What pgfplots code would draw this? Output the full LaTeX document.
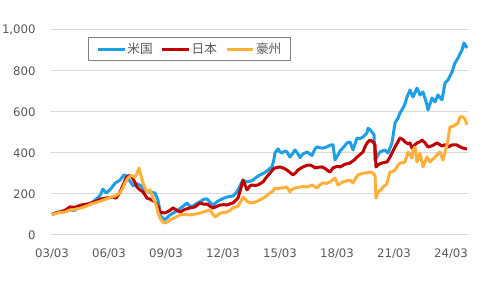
\documentclass[border=0pt]{standalone}
\usepackage{fontspec}
\setmainfont{DejaVu Sans}
\newfontfamily\jp{Noto Sans CJK JP}
\usepackage{pgfplots}
\pgfplotsset{compat=1.18}
\usepackage{pgfplotstable}
\definecolor{cUS}{RGB}{30,158,228}
\definecolor{cJP}{RGB}{192,0,0}
\definecolor{cAU}{RGB}{255,176,58}
\definecolor{gridc}{RGB}{217,217,217}
\definecolor{tickc}{RGB}{89,89,89}
\pgfplotstableread{
px v
52 100
56 108
60 115
65 118
70 122
74 120
77 128
80 136
85 141
90 150
95 170
100 192
103 224
106 205
110 220
115 252
120 268
124 293
127 288
130 262
133 240
137 250
141 240
145 215
150 208
155 205
158 170
161 90
165 75
170 98
175 112
178 122
183 140
187 156
190 140
193 141
197 155
200 162
204 175
207 176
210 160
213 146
217 162
220 171
224 180
227 185
230 188
233 190
236 205
238 220
241 250
243 268
245 262
247 259
250 262
253 268
256 280
260 293
264 302
267 312
270 325
272 332
274 370
275 400
278 420
280 405
282 400
285 410
287 405
290 380
293 400
295 415
298 395
300 378
303 395
307 405
310 395
312 388
315 420
317 430
320 425
323 424
327 430
330 438
333 440
335 366
338 390
340 410
344 430
347 449
350 454
353 415
357 473
360 470
363 478
367 498
368 520
370 515
372 502
374 490
375 366
378 390
380 405
385 415
388 400
392 449
395 546
398 570
400 595
403 619
405 640
407 673
410 707
413 673
417 717
420 683
423 698
427 634
428 610
432 668
435 649
438 683
442 659
445 741
448 756
452 795
455 839
458 863
462 902
464 937
467 912
}\dataUS
\pgfplotstableread{
px v
52 100
56 108
60 112
65 120
70 137
75 135
81 146
86 150
91 156
96 165
101 176
106 180
110 183
113 185
116 180
119 200
121 220
124 255
126 278
129 290
132 283
135 255
137 234
140 220
143 210
147 180
150 175
155 161
158 140
160 112
165 107
170 120
173 132
177 120
180 112
185 125
190 132
195 137
200 156
204 150
207 151
210 140
213 132
217 140
220 146
224 148
227 146
230 152
233 156
236 170
238 180
241 230
243 268
245 245
247 220
250 240
252 244
255 242
258 244
263 259
267 285
270 302
273 320
275 327
280 332
284 325
287 317
290 305
293 293
296 305
298 317
303 332
307 340
310 341
313 335
315 327
318 330
322 332
325 325
327 317
330 307
333 327
337 335
340 332
345 345
350 351
354 365
357 380
360 392
363 405
365 430
367 449
370 463
373 454
375 440
376 332
379 345
382 351
385 355
387 356
390 380
393 410
395 429
398 455
400 473
403 465
405 454
408 445
410 449
412 424
415 440
417 449
420 455
422 463
425 450
428 429
432 435
437 449
440 440
442 434
445 440
448 429
452 439
457 439
460 430
463 424
467 419
}\dataJP
\pgfplotstableread{
px v
52 100
56 105
60 110
65 112
70 122
75 125
81 132
86 140
91 151
96 158
101 166
106 175
111 185
115 190
120 205
123 230
125 254
128 278
131 290
135 283
137 300
139 327
141 290
143 254
145 230
147 210
150 220
153 180
156 150
158 110
160 83
163 62
165 59
168 65
170 73
175 85
180 98
185 100
190 98
195 102
200 107
205 115
210 122
213 100
215 88
218 98
220 107
224 110
227 112
230 120
233 132
236 137
238 141
241 165
243 185
245 175
248 161
250 158
253 156
257 165
260 171
265 185
270 205
273 215
275 229
278 225
280 229
284 230
287 234
290 210
292 222
295 229
298 232
300 234
304 236
307 234
310 240
312 244
315 235
317 229
320 245
323 254
327 252
330 259
333 270
335 278
338 244
340 250
343 259
347 265
350 268
353 254
356 280
358 293
363 302
367 303
370 307
373 302
375 290
376 180
378 210
381 220
383 234
386 245
387 254
390 307
393 310
395 317
398 340
400 351
403 354
405 356
408 405
410 390
412 375
413 415
415 429
417 356
418 366
420 400
423 332
427 380
430 356
435 380
440 405
443 366
447 439
450 527
453 530
455 537
458 545
460 576
463 576
465 565
467 537
}\dataAU
\begin{document}
\begin{tikzpicture}
\useasboundingbox (0,0) rectangle (360pt,216pt);
\begin{axis}[
  at={(38.25pt,39.75pt)}, anchor=south west,
  scale only axis, width=312.75pt, height=153.75pt,
  xmin=-0.632, xmax=262.74, ymin=0, ymax=1000,
  xtick={0,36,72,108,144,180,216,252},
  xticklabels={03/03,06/03,09/03,12/03,15/03,18/03,21/03,24/03},
  ytick={0,200,400,600,800,1000},
  /pgf/number format/1000 sep={,},
  /pgf/number format/assume math mode=true,
  ymajorgrids, major grid style={draw=gridc, line width=0.75pt},
  axis line style={draw=none}, major tick length=0pt,
  tick label style={font=\fontsize{8.8}{10}\selectfont, text=tickc},
  yticklabel style={xshift=-8pt},
  xticklabel style={yshift=-7pt},
  legend columns=3,
  legend style={at={(0.0887,0.9659)}, anchor=north west, draw=gray, line width=0.6pt,
    font=\jp\fontsize{9.5}{11}\selectfont, text=tickc, inner xsep=6pt, inner ysep=2pt,
    nodes={inner xsep=1pt},
    /tikz/every even column/.append style={column sep=5pt}},
  legend image code/.code={\draw[#1, line width=2.25pt] (0pt,0pt) -- (20pt,0pt);},
  every axis plot/.append style={line width=2.25pt, line join=round},
]
\addplot[cUS, no marks] table[x expr={(\thisrowno{0}-52)*12/19}, y=v] {\dataUS};
\addplot[cJP, no marks] table[x expr={(\thisrowno{0}-52)*12/19}, y=v] {\dataJP};
\addplot[cAU, no marks] table[x expr={(\thisrowno{0}-52)*12/19}, y=v] {\dataAU};
\legend{米国,日本,豪州}
\end{axis}
\end{tikzpicture}
\end{document}
